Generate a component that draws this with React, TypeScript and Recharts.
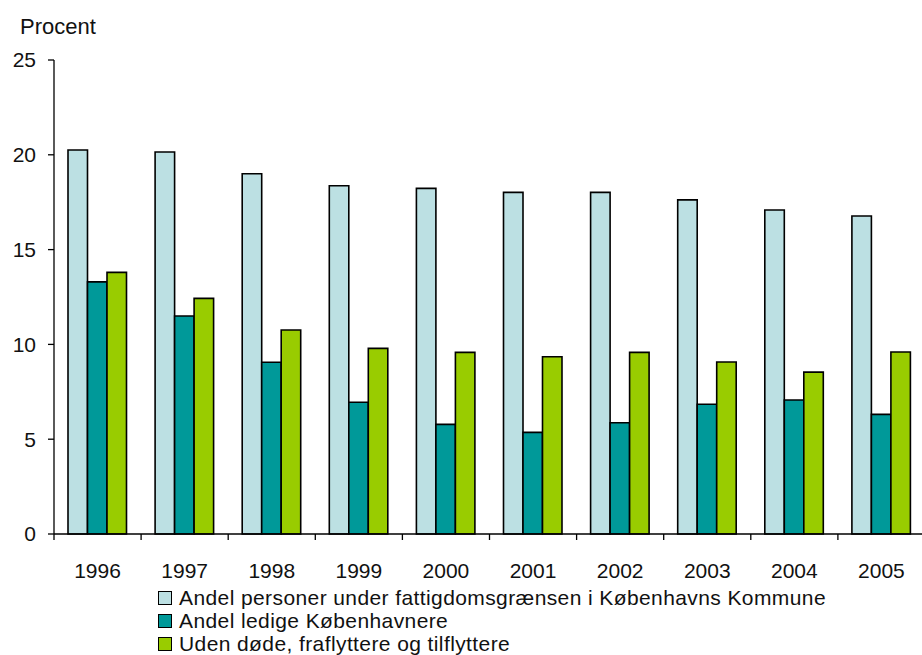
import React from "react";
import { BarChart, Bar, XAxis, YAxis } from "recharts";

const YEARS = ["1996", "1997", "1998", "1999", "2000", "2001", "2002", "2003", "2004", "2005"];
const POVERTY = [20.25, 20.15, 19.0, 18.37, 18.23, 18.02, 18.02, 17.62, 17.09, 16.77];
const UNEMPLOYED = [13.3, 11.5, 9.06, 6.95, 5.78, 5.36, 5.87, 6.84, 7.07, 6.31];
const STAYERS = [13.8, 12.43, 10.76, 9.79, 9.58, 9.35, 9.58, 9.07, 8.54, 9.6];
const Y_TICKS = [0, 5, 10, 15, 20, 25];

const SERIES = [
  { key: "poverty", name: "Andel personer under fattigdomsgrænsen i Københavns Kommune", color: "#BCE0E3" },
  { key: "unemployed", name: "Andel ledige Københavnere", color: "#009999" },
  { key: "stayers", name: "Uden døde, fraflyttere og tilflyttere", color: "#99CC00" },
];

const data = YEARS.map((year, i) => ({
  year,
  poverty: POVERTY[i],
  unemployed: UNEMPLOYED[i],
  stayers: STAYERS[i],
}));

const FONT = "'Liberation Sans', Arial, sans-serif";

// year label in the middle of the band, tick mark on the band boundary
function YearTick(props: any) {
  const { x, y, payload, index } = props;
  const half = payload.offset ?? 0;
  return (
    <g>
      {index === 0 && (
        <line x1={x - half} x2={x - half} y1={y} y2={y + 6} stroke="#000" strokeWidth={1.3} />
      )}
      <line x1={x + half} x2={x + half} y1={y} y2={y + 6} stroke="#000" strokeWidth={1.3} />
      <text
        x={x}
        y={y + 44}
        textAnchor="middle"
        fontSize={21}
        fontFamily={FONT}
        fill="#111"
      >
        {payload.value}
      </text>
    </g>
  );
}

export default function App() {
  return (
    <div
      style={{
        position: "absolute",
        left: 0,
        top: 0,
        width: 922,
        height: 655,
        overflow: "hidden",
        background: "#fff",
        fontFamily: FONT,
      }}
    >
      <div
        style={{
          position: "absolute",
          left: 20,
          top: 16,
          fontSize: 22,
          lineHeight: "22px",
          color: "#111",
        }}
      >
        Procent
      </div>

      <BarChart
        width={930}
        height={655}
        data={data}
        margin={{ top: 60, right: 5, left: 0, bottom: 81 }}
        barGap={0}
        barSize={19.5}
      >
        <XAxis
          dataKey="year"
          height={40}
          axisLine={{ stroke: "#000", strokeWidth: 1.3 }}
          tickLine={false}
          tickSize={0}
          tickMargin={0}
          interval={0}
          tick={<YearTick />}
        />
        <YAxis
          width={54}
          domain={[0, 25]}
          ticks={Y_TICKS}
          interval={0}
          axisLine={{ stroke: "#000", strokeWidth: 1.3 }}
          tickLine={{ stroke: "#000", strokeWidth: 1.3 }}
          tickSize={6}
          tickMargin={12}
          tick={{ fontSize: 21, fontFamily: FONT, fill: "#111" }}
        />
        {SERIES.map((s) => (
          <Bar
            key={s.key}
            dataKey={s.key}
            name={s.name}
            fill={s.color}
            stroke="#000"
            strokeWidth={1.6}
            isAnimationActive={false}
          />
        ))}
      </BarChart>

      <div style={{ position: "absolute", left: 158, top: 586 }}>
        {SERIES.map((s) => (
          <div
            key={s.key}
            style={{
              display: "flex",
              alignItems: "center",
              height: 23.2,
              fontSize: 21,
              lineHeight: "22px",
              letterSpacing: 0.4,
              color: "#111",
              whiteSpace: "nowrap",
            }}
          >
            <span
              style={{
                width: 12,
                height: 12,
                background: s.color,
                border: "1.5px solid #000",
                marginRight: 7,
                marginTop: 1,
              }}
            />
            <span>{s.name}</span>
          </div>
        ))}
      </div>
    </div>
  );
}
